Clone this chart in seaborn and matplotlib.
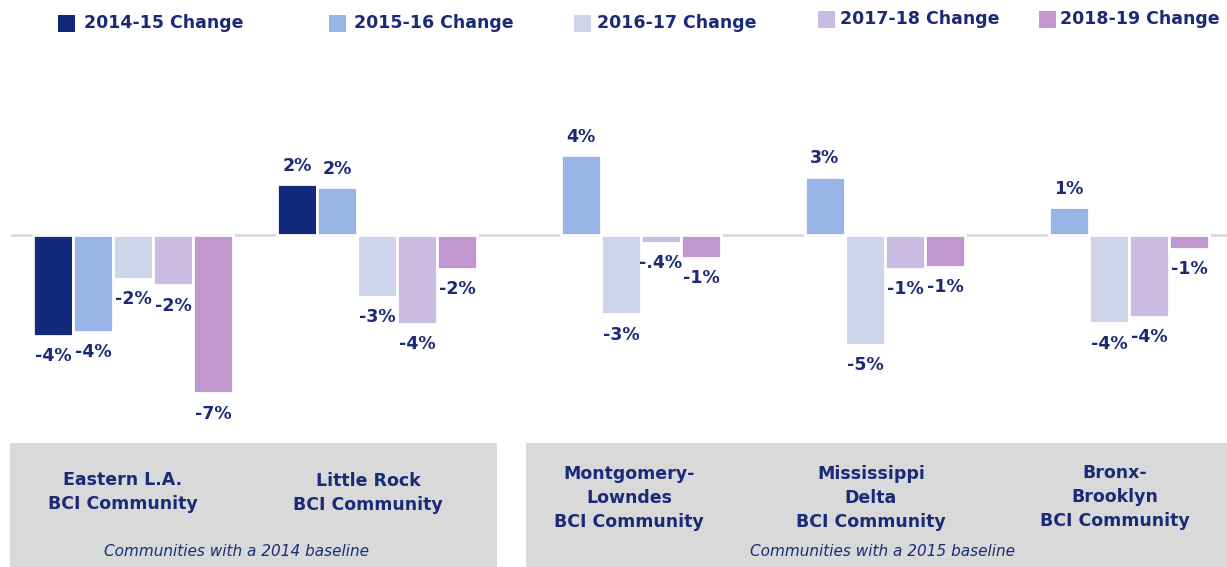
import numpy as np
import pandas as pd
import matplotlib
matplotlib.use("Agg")
import matplotlib.pyplot as plt
import seaborn as sns
from matplotlib.patches import Rectangle

# ---------------- data ----------------
communities = [
    "Eastern L.A.\nBCI Community",
    "Little Rock\nBCI Community",
    "Montgomery-\nLowndes\nBCI Community",
    "Mississippi\nDelta\nBCI Community",
    "Bronx-\nBrooklyn\nBCI Community",
]
series = ["2014-15 Change", "2015-16 Change", "2016-17 Change",
          "2017-18 Change", "2018-19 Change"]

nan = np.nan
chg_2014_15 = [-4.49, 2.27, nan, nan, nan]
chg_2015_16 = [-4.30, 2.12, 3.57, 2.60, 1.24]
chg_2016_17 = [-1.97, -2.77, -3.53, -4.90, -3.93]
chg_2017_18 = [-2.24, -3.94, -0.37, -1.50, -3.64]
chg_2018_19 = [-7.04, -1.51, -1.00, -1.42, -0.60]

lab_2014_15 = ["-4%", "2%", "", "", ""]
lab_2015_16 = ["-4%", "2%", "4%", "3%", "1%"]
lab_2016_17 = ["-2%", "-3%", "-3%", "-5%", "-4%"]
lab_2017_18 = ["-2%", "-4%", "-.4%", "-1%", "-4%"]
lab_2018_19 = ["-7%", "-2%", "-1%", "-1%", "-1%"]

baseline_notes = ["Communities with a 2014 baseline",
                  "Communities with a 2015 baseline"]

colors = ["#12297c", "#98b4e6", "#cfd5ea", "#c9bce0", "#c197d2"]

values = [chg_2014_15, chg_2015_16, chg_2016_17, chg_2017_18, chg_2018_19]
labels = [lab_2014_15, lab_2015_16, lab_2016_17, lab_2017_18, lab_2018_19]

rows = []
for s, vals in zip(series, values):
    for c, v in zip(communities, vals):
        rows.append({"community": c, "series": s, "value": v})
df = pd.DataFrame(rows)

# ---------------- figure ----------------
W, H = 1227, 567
fig = plt.figure(figsize=(W / 100, H / 100), dpi=100)
sns.set_style("white")
plt.rcParams["font.family"] = ["DejaVu Sans"]

TXT = "#1b2a77"
GRAY = "#d9d9d9"

ax_left, ax_right, ax_top, ax_bot = 11, 1227, 60, 430
ax = fig.add_axes([ax_left / W, 1 - ax_bot / H,
                   (ax_right - ax_left) / W, (ax_bot - ax_top) / H])

sns.barplot(data=df, x="community", y="value", hue="series",
            order=communities, hue_order=series,
            palette=dict(zip(series, colors)), saturation=1, width=0.82,
            edgecolor="white", linewidth=2, errorbar=None,
            legend=False, ax=ax, zorder=2)

px_per_unit = 244
ax.set_xlim(-0.5, -0.5 + (ax_right - ax_left) / px_per_unit)
px_per_pct = 22.5
ax.set_ylim(-(ax_bot - 235) / px_per_pct, (235 - ax_top) / px_per_pct)
ax.axhline(0, color=GRAY, lw=2, zorder=1)
ax.set_axis_off()

# value labels
for j, cont in enumerate(ax.containers):
    for bar in cont:
        h = bar.get_height()
        if not np.isfinite(h):
            continue
        xc = bar.get_x() + bar.get_width() / 2
        i = int(round(xc))
        txt = labels[j][i]
        if not txt:
            continue
        if h >= 0:
            ax.annotate(txt, (xc, h), xytext=(0, 6.5), textcoords="offset points",
                        ha="center", va="bottom", fontsize=12.5,
                        fontweight="bold", color=TXT)
        else:
            ax.annotate(txt, (xc, h), xytext=(0, -8), textcoords="offset points",
                        ha="center", va="top", fontsize=12.5,
                        fontweight="bold", color=TXT)

# ---------------- legend (manual) ----------------
leg_sq_x = [58, 329, 574, 818, 1039]
leg_txt_x = [84, 354, 597, 840, 1060]
leg_y = [23, 23, 23, 19, 19]
sq = 17
for s, c, xs, xt, yc in zip(series, colors, leg_sq_x, leg_txt_x, leg_y):
    fig.patches.append(Rectangle((xs / W, 1 - (yc + sq / 2) / H), sq / W, sq / H,
                                 transform=fig.transFigure, facecolor=c,
                                 edgecolor="none"))
    fig.text(xt / W, 1 - yc / H, s, ha="left", va="center", fontsize=12.5,
             fontweight="bold", color=TXT)

# ---------------- bottom boxes ----------------
boxes = [(10, 497), (526, 1227)]
for x0, x1 in boxes:
    fig.patches.append(Rectangle((x0 / W, 0), (x1 - x0) / W, (H - 443) / H,
                                 transform=fig.transFigure, facecolor=GRAY,
                                 edgecolor="none", zorder=0))

name_x = [123, 368, 629, 871, 1115]
name_y = [492, 493, 498, 498, 497]
for name, x, y in zip(communities, name_x, name_y):
    fig.text(x / W, 1 - y / H, name, ha="center", va="center", fontsize=12.5,
             fontweight="bold", color=TXT, linespacing=1.45)

note_x = [237, 882]
for note, x in zip(baseline_notes, note_x):
    fig.text(x / W, 1 - 551 / H, note, ha="center", va="center", fontsize=11,
             fontstyle="italic", color=TXT)

fig.savefig("out.png", dpi=100)
